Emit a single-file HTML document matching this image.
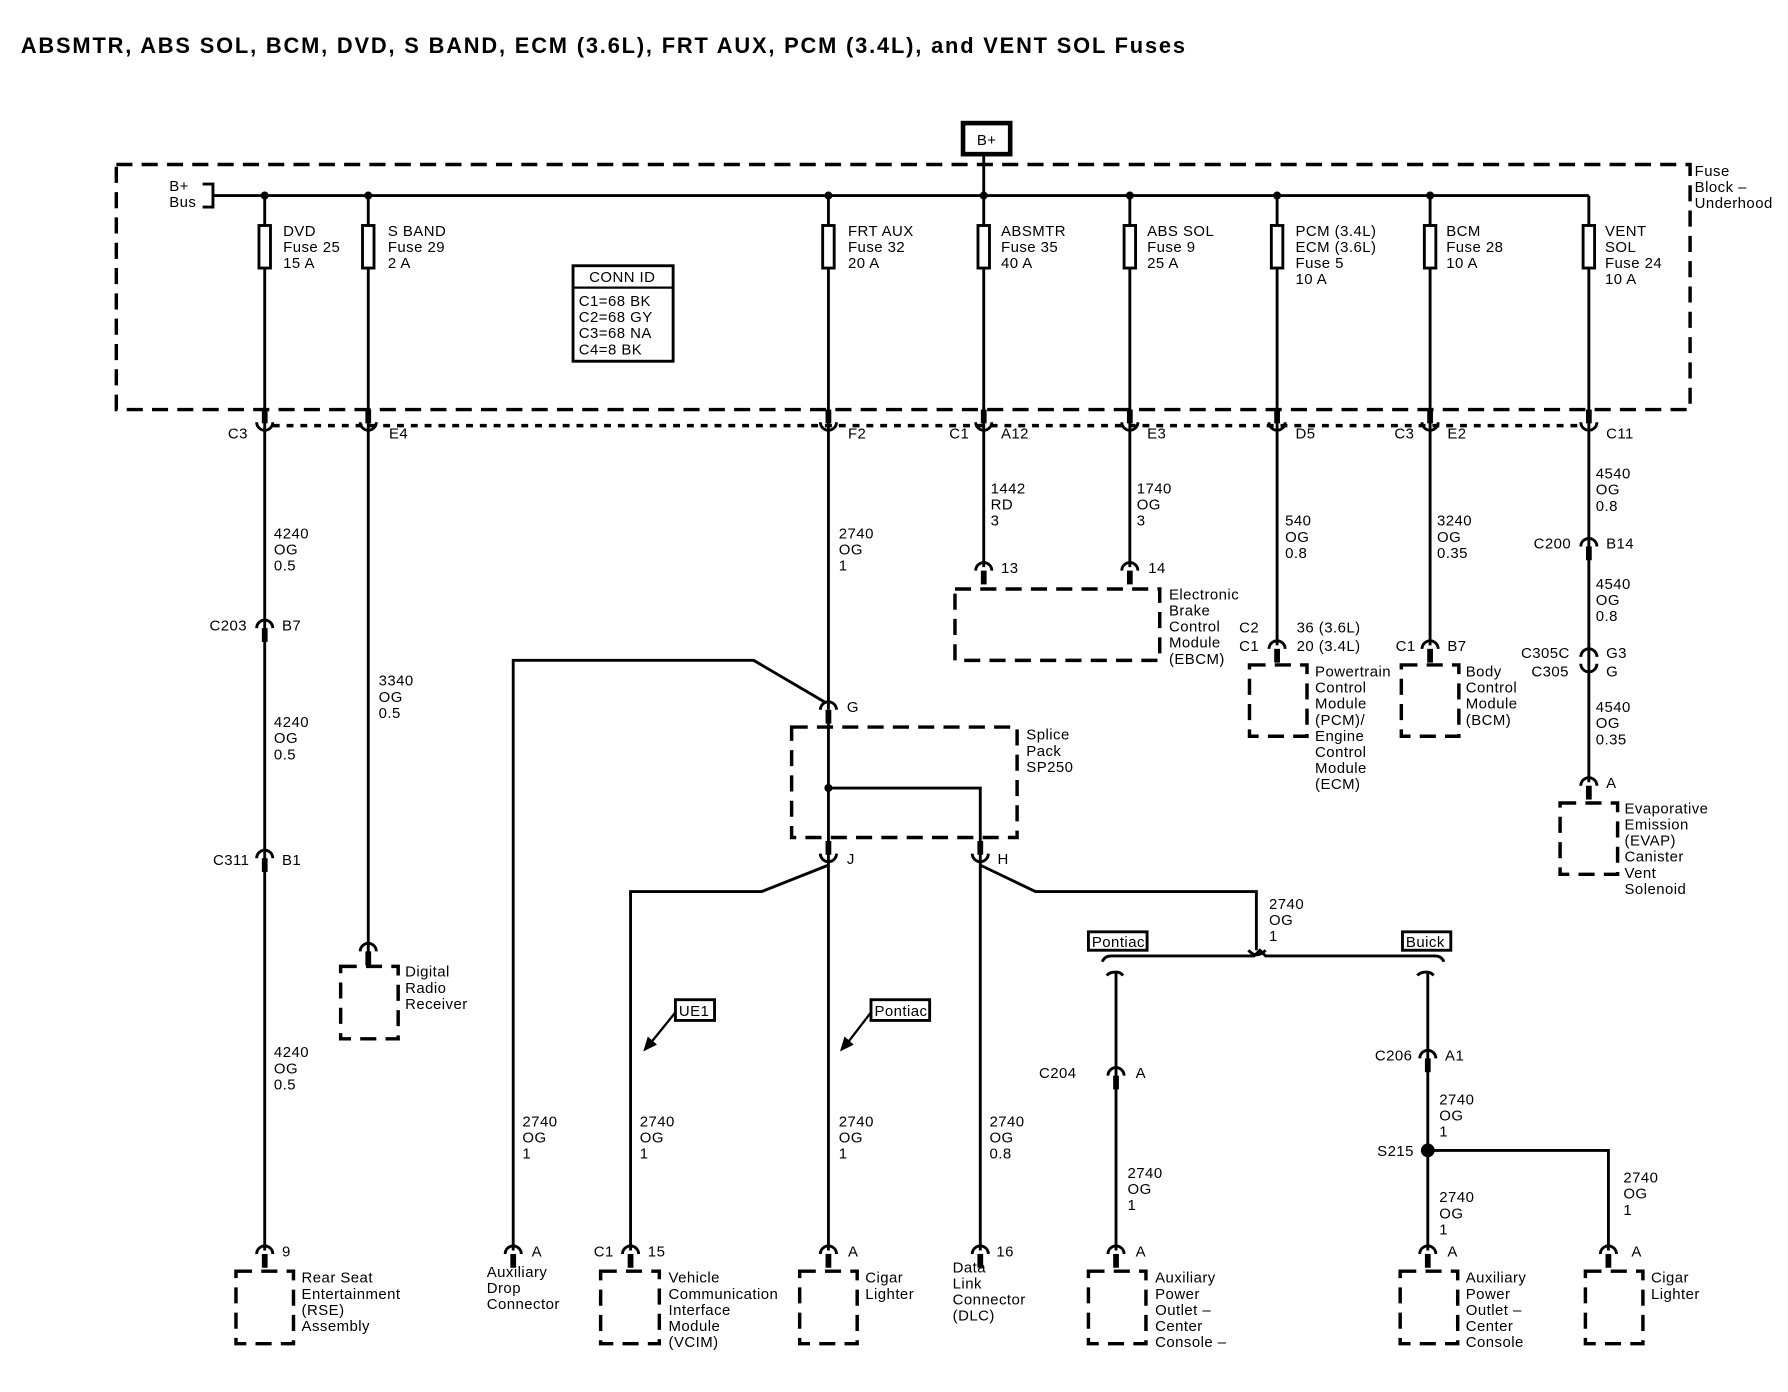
<!DOCTYPE html>
<html><head><meta charset="utf-8"><style>
html,body{margin:0;padding:0;background:#fff}
svg{display:block}
text{font-family:"Liberation Sans",sans-serif;font-size:13px;fill:#000;letter-spacing:0.4px}
.t{font-size:19px;font-weight:bold;letter-spacing:0}
.w{stroke:#000;stroke-width:2.5;fill:none}
.d{stroke:#000;stroke-width:3;fill:none;stroke-dasharray:14 8}
</style></head><body>
<svg width="1788" height="1392" viewBox="0 0 1554 1210" xmlns="http://www.w3.org/2000/svg">
<defs>
<g id="cup"><path d="M-7,-3 a7,7 0 0 0 14,0" class="w"/><rect x="-2.5" y="-14" width="5" height="12"/></g>
<g id="cap"><path d="M-7,3 a7,7 0 0 1 14,0" class="w"/><rect x="-2.5" y="3" width="5" height="12"/></g>
<g id="fuse"><rect x="-5" y="0" width="10" height="37" fill="#fff" stroke="#000" stroke-width="2.5"/></g>
</defs>
<rect width="1554" height="1210" fill="#fff"/>
<text x="18" y="46" class="t" textLength="1012" lengthAdjust="spacing">ABSMTR, ABS SOL, BCM, DVD, S BAND, ECM (3.6L), FRT AUX, PCM (3.4L), and VENT SOL Fuses</text>

<!-- B+ -->
<rect x="837" y="107" width="41" height="27" fill="#fff" stroke="#000" stroke-width="4"/>
<text x="849" y="126">B+</text>
<line x1="855" y1="134" x2="855" y2="170" class="w"/>
<!-- Fuse block -->
<rect x="101" y="143" width="1368" height="213" class="d"/>
<text x="1473" y="153">Fuse</text><text x="1473" y="167">Block –</text><text x="1473" y="181">Underhood</text>
<text x="147" y="166">B+</text><text x="147" y="180">Bus</text>
<path d="M176,160 L185,160 L185,180 L176,180" class="w" stroke-width="2"/>
<line x1="185" y1="170" x2="1381" y2="170" class="w"/>
<g fill="#000">
<circle cx="230" cy="170" r="3.5"/><circle cx="320" cy="170" r="3.5"/><circle cx="720" cy="170" r="3.5"/><circle cx="855" cy="170" r="3.5"/><circle cx="982" cy="170" r="3.5"/><circle cx="1110" cy="170" r="3.5"/><circle cx="1243" cy="170" r="3.5"/></g>
<g class="w">
<line x1="230" y1="170" x2="230" y2="1087"/>
<line x1="320" y1="170" x2="320" y2="828"/>
<line x1="720" y1="170" x2="720" y2="617"/>
<line x1="855" y1="170" x2="855" y2="493"/>
<line x1="982" y1="170" x2="982" y2="493"/>
<line x1="1110" y1="170" x2="1110" y2="561"/>
<line x1="1243" y1="170" x2="1243" y2="561"/>
<line x1="1381" y1="170" x2="1381" y2="680"/>
</g>
<use href="#fuse" x="230" y="196"/><use href="#fuse" x="320" y="196"/><use href="#fuse" x="720" y="196"/><use href="#fuse" x="855" y="196"/><use href="#fuse" x="982" y="196"/><use href="#fuse" x="1110" y="196"/><use href="#fuse" x="1243" y="196"/><use href="#fuse" x="1381" y="196"/>
<g>
<text x="246" y="205">DVD</text><text x="246" y="219">Fuse 25</text><text x="246" y="233">15 A</text>
<text x="337" y="205">S BAND</text><text x="337" y="219">Fuse 29</text><text x="337" y="233">2 A</text>
<text x="737" y="205">FRT AUX</text><text x="737" y="219">Fuse 32</text><text x="737" y="233">20 A</text>
<text x="870" y="205">ABSMTR</text><text x="870" y="219">Fuse 35</text><text x="870" y="233">40 A</text>
<text x="997" y="205">ABS SOL</text><text x="997" y="219">Fuse 9</text><text x="997" y="233">25 A</text>
<text x="1126" y="205">PCM (3.4L)</text><text x="1126" y="219">ECM (3.6L)</text><text x="1126" y="233">Fuse 5</text><text x="1126" y="247">10 A</text>
<text x="1257" y="205">BCM</text><text x="1257" y="219">Fuse 28</text><text x="1257" y="233">10 A</text>
<text x="1395" y="205">VENT</text><text x="1395" y="219">SOL</text><text x="1395" y="233">Fuse 24</text><text x="1395" y="247">10 A</text>
</g>
<rect x="498" y="231" width="87" height="83" fill="#fff" stroke="#000" stroke-width="2.5"/>
<line x1="498" y1="250" x2="585" y2="250" stroke="#000" stroke-width="2"/>
<text x="512" y="245">CONN ID</text>
<text x="503" y="266">C1=68 BK</text><text x="503" y="280">C2=68 GY</text><text x="503" y="294">C3=68 NA</text><text x="503" y="308">C4=8 BK</text>

<line x1="237" y1="370" x2="1374" y2="370" stroke="#000" stroke-width="3" stroke-dasharray="6 6"/>
<g fill="#000">
<use href="#cup" x="230" y="370"/><use href="#cup" x="320" y="370"/><use href="#cup" x="720" y="370"/><use href="#cup" x="855" y="370"/><use href="#cup" x="982" y="370"/><use href="#cup" x="1110" y="370"/><use href="#cup" x="1243" y="370"/><use href="#cup" x="1381" y="370"/></g>
<text x="198" y="381">C3</text><text x="338" y="381">E4</text><text x="737" y="381">F2</text><text x="825" y="381">C1</text><text x="870" y="381">A12</text><text x="997" y="381">E3</text><text x="1126" y="381">D5</text><text x="1212" y="381">C3</text><text x="1258" y="381">E2</text><text x="1396" y="381">C11</text>

<text x="238" y="468">4240</text><text x="238" y="482">OG</text><text x="238" y="496">0.5</text>
<use href="#cap" x="230" y="543"/><text x="182" y="548">C203</text><text x="245" y="548">B7</text>
<text x="238" y="632">4240</text><text x="238" y="646">OG</text><text x="238" y="660">0.5</text>
<use href="#cap" x="230" y="743"/><text x="185" y="752">C311</text><text x="245" y="752">B1</text>
<text x="238" y="919">4240</text><text x="238" y="933">OG</text><text x="238" y="947">0.5</text>
<use href="#cap" x="230" y="1087"/><text x="245" y="1092">9</text>
<rect x="205" y="1105" width="50" height="63" class="d" stroke-dasharray="10 8"/>
<text x="262" y="1115">Rear Seat</text><text x="262" y="1129">Entertainment</text><text x="262" y="1143">(RSE)</text><text x="262" y="1157">Assembly</text>

<text x="329" y="596">3340</text><text x="329" y="610">OG</text><text x="329" y="624">0.5</text>
<use href="#cap" x="320" y="824"/>
<rect x="296" y="840" width="50" height="63" class="d" stroke-dasharray="10 8"/>
<text x="352" y="849">Digital</text><text x="352" y="863">Radio</text><text x="352" y="877">Receiver</text>

<text x="729" y="468">2740</text><text x="729" y="482">OG</text><text x="729" y="496">1</text>
<use href="#cap" x="720" y="614"/><text x="736" y="619">G</text>
<rect x="688" y="632" width="196" height="96" class="d"/>
<text x="892" y="643">Splice</text><text x="892" y="657">Pack</text><text x="892" y="671">SP250</text>
<line x1="720" y1="629" x2="720" y2="1087" class="w"/>
<circle cx="720" cy="685" r="3.5"/>
<path d="M720,685 L852,685 L852,1087" class="w"/>
<use href="#cup" x="720" y="745"/><use href="#cup" x="852" y="745"/>
<text x="736" y="751">J</text><text x="867" y="751">H</text>
<path d="M446,1087 L446,574 L655,574 L718,611" class="w"/>
<path d="M548,1087 L548,775 L662,775 L720,752" class="w"/>
<path d="M852,752 L900,775 L1092,775 L1092,826" class="w"/>
<path d="M1085,826 q4,4 7,4 q4,0 8,-4" class="w" stroke-width="2"/>
<path d="M958,836 q2,-5 8,-5 L1090,831 l5,-5 l5,5 L1247,831 q6,0 8,5" class="w" stroke-width="2"/>
<path d="M962,848 q2,-3 8,-3 q4,0 6,3" class="w" stroke-width="2"/>
<path d="M1232,848 q2,-3 8,-3 q4,0 6,3" class="w" stroke-width="2"/>
<line x1="970" y1="846" x2="970" y2="1087" class="w"/>
<line x1="1241" y1="846" x2="1241" y2="1087" class="w"/>
<path d="M1241,1000 L1398,1000 L1398,1087" class="w"/>
<circle cx="1241" cy="1000" r="6"/>
<text x="1103" y="790">2740</text><text x="1103" y="804">OG</text><text x="1103" y="818">1</text>
<rect x="946" y="810" width="51" height="16" fill="#fff" stroke="#000" stroke-width="2.5"/><text x="949" y="823">Pontiac</text>
<rect x="1219" y="810" width="42" height="16" fill="#fff" stroke="#000" stroke-width="2.5"/><text x="1222" y="823">Buick</text>
<rect x="587" y="869" width="34" height="18" fill="#fff" stroke="#000" stroke-width="2.5"/><text x="590" y="883">UE1</text>
<line x1="587" y1="880" x2="566" y2="906" stroke="#000" stroke-width="2"/><path d="M559,914 L563,901 L571,908 Z"/>
<rect x="757" y="869" width="51" height="18" fill="#fff" stroke="#000" stroke-width="2.5"/><text x="760" y="883">Pontiac</text>
<line x1="757" y1="880" x2="737" y2="906" stroke="#000" stroke-width="2"/><path d="M730,914 L734,901 L742,908 Z"/>

<text x="454" y="979">2740</text><text x="454" y="993">OG</text><text x="454" y="1007">1</text>
<text x="556" y="979">2740</text><text x="556" y="993">OG</text><text x="556" y="1007">1</text>
<text x="729" y="979">2740</text><text x="729" y="993">OG</text><text x="729" y="1007">1</text>
<text x="860" y="979">2740</text><text x="860" y="993">OG</text><text x="860" y="1007">0.8</text>
<text x="980" y="1024">2740</text><text x="980" y="1038">OG</text><text x="980" y="1052">1</text>
<text x="1251" y="960">2740</text><text x="1251" y="974">OG</text><text x="1251" y="988">1</text>
<text x="1251" y="1045">2740</text><text x="1251" y="1059">OG</text><text x="1251" y="1073">1</text>
<text x="1411" y="1028">2740</text><text x="1411" y="1042">OG</text><text x="1411" y="1056">1</text>
<use href="#cap" x="970" y="932"/><text x="903" y="937">C204</text><text x="987" y="937">A</text>
<use href="#cap" x="1241" y="917"/><text x="1195" y="922">C206</text><text x="1256" y="922">A1</text>
<text x="1197" y="1005">S215</text>

<use href="#cap" x="446" y="1087"/><text x="462" y="1092">A</text>
<text x="423" y="1110">Auxiliary</text><text x="423" y="1124">Drop</text><text x="423" y="1138">Connector</text>
<use href="#cap" x="548" y="1087"/><text x="516" y="1092">C1</text><text x="563" y="1092">15</text>
<rect x="522" y="1105" width="51" height="63" class="d" stroke-dasharray="10 8"/>
<text x="581" y="1115">Vehicle</text><text x="581" y="1129">Communication</text><text x="581" y="1143">Interface</text><text x="581" y="1157">Module</text><text x="581" y="1171">(VCIM)</text>
<use href="#cap" x="720" y="1087"/><text x="737" y="1092">A</text>
<rect x="695" y="1105" width="50" height="63" class="d" stroke-dasharray="10 8"/>
<text x="752" y="1115">Cigar</text><text x="752" y="1129">Lighter</text>
<use href="#cap" x="852" y="1087"/><text x="866" y="1092">16</text>
<text x="828" y="1106">Data</text><text x="828" y="1120">Link</text><text x="828" y="1134">Connector</text><text x="828" y="1148">(DLC)</text>
<use href="#cap" x="970" y="1087"/><text x="987" y="1092">A</text>
<rect x="946" y="1105" width="50" height="63" class="d" stroke-dasharray="10 8"/>
<text x="1004" y="1115">Auxiliary</text><text x="1004" y="1129">Power</text><text x="1004" y="1143">Outlet –</text><text x="1004" y="1157">Center</text><text x="1004" y="1171">Console –</text>
<use href="#cap" x="1241" y="1087"/><text x="1258" y="1092">A</text>
<rect x="1217" y="1105" width="50" height="63" class="d" stroke-dasharray="10 8"/>
<text x="1274" y="1115">Auxiliary</text><text x="1274" y="1129">Power</text><text x="1274" y="1143">Outlet –</text><text x="1274" y="1157">Center</text><text x="1274" y="1171">Console</text>
<use href="#cap" x="1398" y="1087"/><text x="1418" y="1092">A</text>
<rect x="1378" y="1105" width="50" height="63" class="d" stroke-dasharray="10 8"/>
<text x="1435" y="1115">Cigar</text><text x="1435" y="1129">Lighter</text>

<text x="861" y="429">1442</text><text x="861" y="443">RD</text><text x="861" y="457">3</text>
<text x="988" y="429">1740</text><text x="988" y="443">OG</text><text x="988" y="457">3</text>
<use href="#cap" x="855" y="493"/><text x="870" y="498">13</text>
<use href="#cap" x="982" y="493"/><text x="998" y="498">14</text>
<rect x="830" y="512" width="178" height="62" class="d" stroke-dasharray="12 8"/>
<text x="1016" y="521">Electronic</text><text x="1016" y="535">Brake</text><text x="1016" y="549">Control</text><text x="1016" y="563">Module</text><text x="1016" y="577">(EBCM)</text>
<text x="1117" y="457">540</text><text x="1117" y="471">OG</text><text x="1117" y="485">0.8</text>
<use href="#cap" x="1110" y="561"/><text x="1077" y="550">C2</text><text x="1077" y="566">C1</text>
<text x="1127" y="550">36 (3.6L)</text><text x="1127" y="566">20 (3.4L)</text>
<rect x="1086" y="578" width="50" height="62" class="d" stroke-dasharray="10 8"/>
<text x="1143" y="588">Powertrain</text><text x="1143" y="602">Control</text><text x="1143" y="616">Module</text><text x="1143" y="630">(PCM)/</text><text x="1143" y="644">Engine</text><text x="1143" y="658">Control</text><text x="1143" y="672">Module</text><text x="1143" y="686">(ECM)</text>
<text x="1249" y="457">3240</text><text x="1249" y="471">OG</text><text x="1249" y="485">0.35</text>
<use href="#cap" x="1243" y="561"/><text x="1213" y="566">C1</text><text x="1258" y="566">B7</text>
<rect x="1218" y="578" width="50" height="62" class="d" stroke-dasharray="10 8"/>
<text x="1274" y="588">Body</text><text x="1274" y="602">Control</text><text x="1274" y="616">Module</text><text x="1274" y="630">(BCM)</text>
<text x="1387" y="416">4540</text><text x="1387" y="430">OG</text><text x="1387" y="444">0.8</text>
<use href="#cap" x="1381" y="472"/><text x="1333" y="477">C200</text><text x="1396" y="477">B14</text>
<text x="1387" y="512">4540</text><text x="1387" y="526">OG</text><text x="1387" y="540">0.8</text>
<path d="M1374,571 a7,7 0 0 1 14,0" class="w"/><path d="M1374,577 a7,7 0 0 0 14,0" class="w"/>
<text x="1322" y="572">C305C</text><text x="1331" y="588">C305</text><text x="1396" y="572">G3</text><text x="1396" y="588">G</text>
<text x="1387" y="619">4540</text><text x="1387" y="633">OG</text><text x="1387" y="647">0.35</text>
<use href="#cap" x="1381" y="680"/><text x="1396" y="685">A</text>
<rect x="1356" y="698" width="50" height="62" class="d" stroke-dasharray="10 8"/>
<text x="1412" y="707">Evaporative</text><text x="1412" y="721">Emission</text><text x="1412" y="735">(EVAP)</text><text x="1412" y="749">Canister</text><text x="1412" y="763">Vent</text><text x="1412" y="777">Solenoid</text>
</svg>
</body></html>
